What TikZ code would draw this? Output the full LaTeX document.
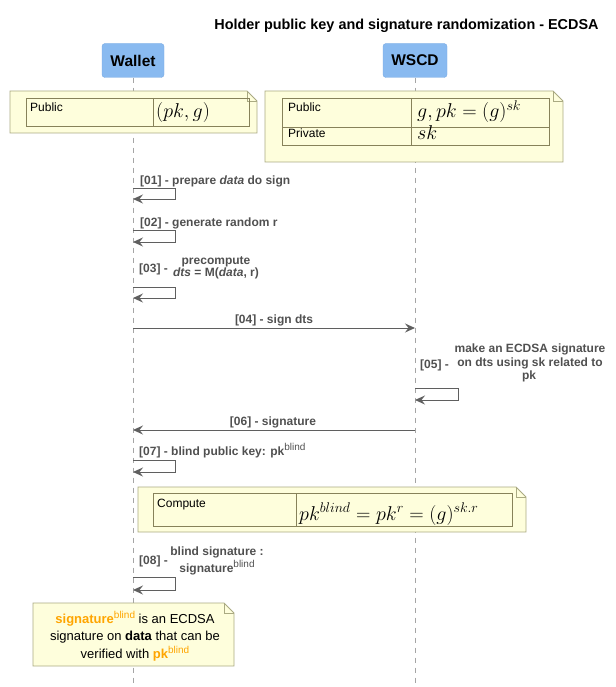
\RequirePackage{fix-cm}
\documentclass[tikz,border=0pt]{standalone}
\usepackage[no-math]{fontspec}
\setmainfont{Liberation Sans}
\usetikzlibrary{arrows.meta}

\definecolor{partfill}{RGB}{137,186,240}
\definecolor{partedge}{RGB}{122,170,226}
\definecolor{notefill}{RGB}{254,254,220}
\definecolor{noteedge}{RGB}{170,170,130}
\definecolor{celledge}{RGB}{135,130,90}
\definecolor{msgtext}{RGB}{80,80,80}
\definecolor{linegray}{RGB}{95,95,95}
\definecolor{lifegray}{RGB}{165,165,165}
\definecolor{hilite}{RGB}{255,165,0}

% note with a folded top-right corner: x1 y1 x2 y2
\newcommand{\dognote}[4]{%
  \draw[notebox] (#1,#2) -- ({#3-10},#2) -- (#3,{#2+10}) -- (#3,#4) -- (#1,#4) -- cycle;
  \draw[notebox, fill=none] ({#3-10},#2) -- ({#3-10},{#2+10}) -- (#3,{#2+10});
}
% raised, lighter exponent word
\newcommand{\upword}[1]{\raisebox{4.5pt}{\fontsize{10}{12}\selectfont\mdseries #1}}

\begin{document}
\begin{tikzpicture}[x=1pt, y=-1pt,
  part/.style={draw=partedge, fill=partfill, rounded corners=3pt, minimum width=62pt,
    minimum height=34pt, font=\fontsize{15.5}{18}\selectfont\bfseries, inner sep=0pt},
  lifeline/.style={draw=lifegray, line width=0.8pt, dash pattern=on 5pt off 5pt},
  msg/.style={font=\fontsize{12}{14}\selectfont\bfseries, text=msgtext, inner sep=0pt, anchor=base west},
  msgc/.style={msg, anchor=base},
  call/.style={draw=linegray, line width=1pt, -{Stealth[length=10pt,width=9pt,inset=3.5pt]}},
  notebox/.style={draw=noteedge, fill=notefill, line width=0.8pt},
  cell/.style={draw=celledge, line width=0.8pt},
  celltext/.style={font=\fontsize{12}{14}\selectfont, anchor=base west, inner sep=0pt},
  cellmath/.style={font=\fontsize{20}{24}\selectfont, anchor=base west, inner sep=0pt},
  notetext/.style={font=\fontsize{13}{16}\selectfont, anchor=base, inner sep=0pt},
]
\useasboundingbox (0,0) rectangle (615,687);

% title
\node[font=\fontsize{14.4}{17}\selectfont\bfseries, anchor=base, inner sep=0pt] (title)
  at (406.5,30) {Holder public key and signature randomization - ECDSA};

% participants and lifelines
\node[part] (wallet) at (133,60.5) {Wallet};
\node[part, minimum width=64pt] (wscd) at (415,60.5) {WSCD};
\coordinate (walletEnd) at (133,687);
\coordinate (wscdEnd) at (415,687);
\draw[lifeline] (wallet.south) -- (walletEnd);
\draw[lifeline] (wscd.south) -- (wscdEnd);

% wallet keys
\dognote{10}{91}{257}{133}
\draw[cell] (26,98) rectangle (249,126);
\draw[cell] (153,98) -- (153,126);
\node[celltext] (wpubl) at (30,112) {Public};
\node[cellmath] (wpubv) at (156,118) {$(pk, g)$};

% WSCD keys
\dognote{265}{91}{563}{162}
\draw[cell] (282,98) rectangle (549,145);
\draw[cell] (282,127) -- (549,127);
\draw[cell] (411,98) -- (411,145);
\node[celltext] (spubl) at (288,112) {Public};
\node[celltext] (sprivl) at (288,138) {Private};
\node[cellmath] (spubv) at (417,118) {$g, pk = (g)^{sk}$};
\node[cellmath] (sprivv) at (417,140) {$sk$};

% [01]
\node[msg] (m1) at (140,184) {[01] - prepare \textit{data} do sign};
\coordinate (m1a) at (133,188);
\coordinate (m1b) at (133,199);
\draw[call] (m1a) -- (175,188) -- (175,199) -- (m1b);

% [02]
\node[msg] (m2) at (140,226) {[02] - generate random r};
\coordinate (m2a) at (133,230);
\coordinate (m2b) at (133,242);
\draw[call] (m2a) -- (175,230) -- (175,242) -- (m2b);

% [03]
\node[msg] (m3n) at (139,272) {[03] -};
\node[msgc] (m3l1) at (216,264) {precompute};
\node[msgc] (m3l2) at (216,276) {\textit{dts} = M(\textit{data}, r)};
\coordinate (m3a) at (133,287);
\coordinate (m3b) at (133,298);
\draw[call] (m3a) -- (175,287) -- (175,298) -- (m3b);

% [04]
\node[msgc] (m4) at (274,323) {[04] - sign dts};
\coordinate (m4a) at (133,328);
\coordinate (m4b) at (415,328);
\draw[call] (m4a) -- (m4b);

% [05]
\node[msg] (m5n) at (420,368) {[05] -};
\node[msgc] (m5l1) at (530,352) {make an ECDSA signature};
\node[msgc] (m5l2) at (530,366) {on dts using sk related to};
\node[msgc] (m5l3) at (529,379) {pk};
\coordinate (m5a) at (415,388);
\coordinate (m5b) at (415,400);
\draw[call] (m5a) -- (458,388) -- (458,400) -- (m5b);

% [06]
\node[msgc] (m6) at (273,425) {[06] - signature};
\coordinate (m6a) at (415,430);
\coordinate (m6b) at (133,430);
\draw[call] (m6a) -- (m6b);

% [07]
\node[msg] (m7) at (139,455) {[07] - blind public key: pk\upword{blind}};
\coordinate (m7a) at (133,460);
\coordinate (m7b) at (133,472);
\draw[call] (m7a) -- (175,460) -- (175,472) -- (m7b);

% blinded key
\dognote{138}{487}{526}{532}
\draw[cell] (153,493) rectangle (512,526);
\draw[cell] (296,493) -- (296,526);
\node[celltext] (cl) at (157,507) {Compute};
\node[cellmath] (cv) at (299,520) {$pk^{blind} = pk^{r} = (g)^{sk.r}$};

% [08]
\node[msg] (m8n) at (139,564) {[08] -};
\node[msgc] (m8l1) at (217,555) {blind signature :};
\node[msgc] (m8l2) at (217,572) {signature\upword{blind}};
\coordinate (m8a) at (133,577);
\coordinate (m8b) at (133,590);
\draw[call] (m8a) -- (175,577) -- (175,590) -- (m8b);

% closing note
\dognote{33}{603}{234}{666}
\node[notetext] (n1) at (135,623) {{\color{hilite}\bfseries signature\upword{blind}} is an ECDSA};
\node[notetext] (n2) at (135,640) {signature on \textbf{data} that can be};
\node[notetext] (n3) at (135,658) {verified with {\color{hilite}\bfseries pk\upword{blind}}};
\end{tikzpicture}
\end{document}
